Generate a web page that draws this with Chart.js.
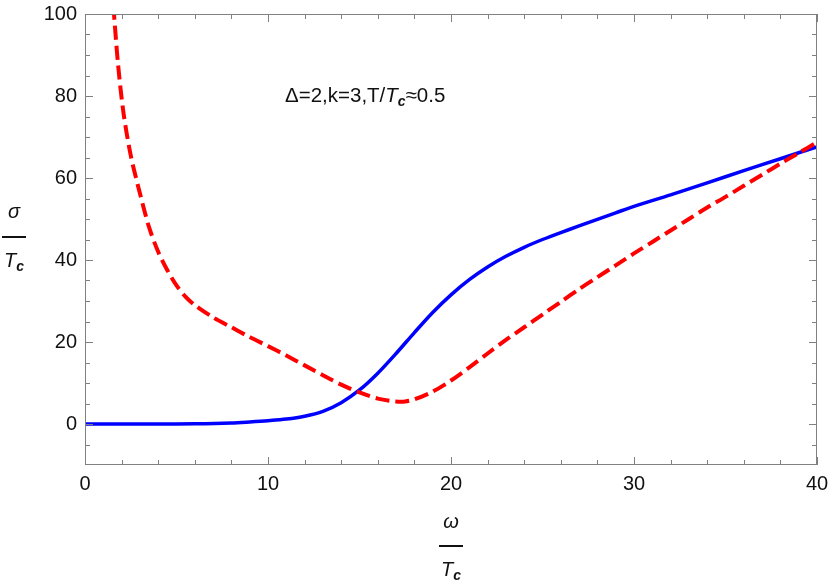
<!DOCTYPE html>
<html>
<head>
<meta charset="utf-8">
<script src="https://cdn.jsdelivr.net/npm/chart.js@4.4.1/dist/chart.umd.min.js"></script>
<style>
  html, body { margin: 0; background: #fff; }
  #wrap { width: 830px; height: 585px; }
</style>
</head>
<body>
<div id="wrap"><canvas id="chart"></canvas></div>
<script>
// === axis ticks ===
const xTicks = [0, 10, 20, 30, 40];
const yTicks = [0, 20, 40, 60, 80, 100];
const xMinor = [2, 4, 6, 8, 12, 14, 16, 18, 22, 24, 26, 28, 32, 34, 36, 38];
const yMinor = [-5, 5, 10, 15, 25, 30, 35, 45, 50, 55, 65, 70, 75, 85, 90, 95];

// === blue solid curve (omega/Tc, sigma/Tc) ===
const blueW = [0, 4, 6, 8, 9, 10, 11, 12, 13, 14, 15, 16, 17, 18, 19, 20, 21, 22, 23, 24, 25, 26, 27, 28, 29, 30, 32, 34, 36, 38, 40];
const blueS = [0, 0, 0.05, 0.25, 0.5, 0.8, 1.2, 1.9, 3.1, 5.2, 8.3, 12.4, 17.2, 22.3, 27.2, 31.5, 35.2, 38.3, 40.9, 43.1, 45, 46.7, 48.3, 49.9, 51.5, 53.1, 55.9, 58.8, 61.8, 64.7, 67.6];

// === red dashed curve ===
const redW = [1.55, 1.8, 2.1, 2.5, 3, 3.5, 4, 4.5, 5, 5.5, 6, 7, 8, 9, 10, 11, 12, 13, 14, 15, 16, 17, 17.5, 18, 19, 20, 21, 22, 23, 24, 25, 26, 27, 28, 29, 30, 31, 32, 33, 34, 35, 36, 37, 38, 39, 40];
const redS = [102, 88, 76, 65.5, 56.3, 48, 42, 37.5, 33.8, 31, 29, 26, 23.6, 21.2, 19, 16.7, 14.3, 11.9, 9.6, 7.7, 6.2, 5.5, 5.5, 6, 7.9, 10.6, 13.8, 17.2, 20.5, 23.6, 26.7, 29.8, 32.9, 35.8, 38.7, 41.6, 44.4, 47.2, 50, 52.8, 55.4, 58.1, 60.8, 63.5, 66.1, 68.7];

const toPoints = (xs, ys) => xs.map((x, i) => ({ x: x, y: ys[i] }));

const FONT = '"Liberation Sans", Arial, sans-serif';

// рамка, засечки внутрь, подписи осей
const framePlugin = {
  id: "frame",
  afterDraw(chart) {
    const { ctx, chartArea: a, scales } = chart;
    const xs = scales.x, ys = scales.y;
    ctx.save();
    ctx.strokeStyle = "#808080";
    ctx.lineWidth = 1;
    ctx.strokeRect(a.left + 0.5, a.top + 0.5, a.right - a.left - 1, a.bottom - a.top - 1);

    ctx.beginPath();
    const xTick = (v, len) => {
      const p = Math.round(xs.getPixelForValue(v)) + 0.5;
      ctx.moveTo(p, a.bottom); ctx.lineTo(p, a.bottom - len);
      ctx.moveTo(p, a.top); ctx.lineTo(p, a.top + len);
    };
    const yTick = (v, len) => {
      const p = Math.round(ys.getPixelForValue(v)) + 0.5;
      ctx.moveTo(a.left, p); ctx.lineTo(a.left + len, p);
      ctx.moveTo(a.right, p); ctx.lineTo(a.right - len, p);
    };
    xTicks.forEach(v => xTick(v, 8));
    xMinor.forEach(v => xTick(v, 5));
    yTicks.forEach(v => yTick(v, 8));
    yMinor.forEach(v => yTick(v, 5));
    ctx.stroke();

    ctx.fillStyle = "#111";
    ctx.textBaseline = "alphabetic";

    // аннотация
    let x = 285;
    const base = 102;
    const seg = (txt, font, dy) => {
      ctx.font = font;
      ctx.fillText(txt, x, base + (dy || 0));
      x += ctx.measureText(txt).width;
    };
    ctx.textAlign = "left";
    seg("Δ=2,k=3,T/", "20.5px " + FONT);
    seg("T", "italic 20.5px " + FONT);
    seg("c", "italic bold 14px " + FONT, 4);
    seg("≈0.5", "20.5px " + FONT);

    // дробь: символ / черта / T_c
    const fraction = (cx, topTxt, topBase, lineY, botBase) => {
      ctx.font = "italic 20px " + FONT;
      ctx.textAlign = "center";
      ctx.fillText(topTxt, cx, topBase);
      ctx.fillRect(cx - 12, lineY - 1, 24, 2);
      ctx.textAlign = "left";
      ctx.font = "italic 20px " + FONT;
      const wT = ctx.measureText("T").width;
      ctx.font = "italic bold 14px " + FONT;
      const wc = ctx.measureText("c").width;
      const sx = cx - (wT + wc) / 2;
      ctx.font = "italic 20px " + FONT;
      ctx.fillText("T", sx, botBase);
      ctx.font = "italic bold 14px " + FONT;
      ctx.fillText("c", sx + wT, botBase + 4);
    };
    fraction(14, "σ", 218, 237, 267);
    fraction((a.left + a.right) / 2, "ω", 528, 546, 576);
    ctx.restore();
  }
};

new Chart(document.getElementById("chart"), {
  type: "line",
  data: {
    datasets: [
      {
        data: toPoints(redW, redS),
        borderColor: "#ff0000",
        borderWidth: 4,
        borderDash: [14, 6],
        pointRadius: 0,
        tension: 0.3,
        fill: false,
        clip: 0
      },
      {
        data: toPoints(blueW, blueS),
        borderColor: "#0000ff",
        borderWidth: 3.5,
        pointRadius: 0,
        tension: 0.3,
        fill: false,
        clip: 0
      }
    ]
  },
  plugins: [framePlugin],
  options: {
    responsive: true,
    maintainAspectRatio: false,
    animation: false,
    devicePixelRatio: 1,
    layout: { padding: { top: 14, right: 13, left: 0, bottom: 0 } },
    plugins: { legend: { display: false }, tooltip: { enabled: false } },
    scales: {
      x: {
        type: "linear",
        min: 0,
        max: 40,
        afterBuildTicks: s => { s.ticks = xTicks.map(v => ({ value: v })); },
        afterFit: s => { s.height = 120; s.paddingLeft = 0; s.paddingRight = 0; },
        grid: { display: false, drawTicks: false },
        border: { display: false },
        ticks: { font: { size: 20, family: FONT }, color: "#111", padding: 7, maxRotation: 0 }
      },
      y: {
        type: "linear",
        min: -10,
        max: 100,
        afterBuildTicks: s => { s.ticks = yTicks.map(v => ({ value: v })); },
        afterFit: s => { s.width = 85; s.paddingTop = 0; s.paddingBottom = 0; },
        grid: { display: false, drawTicks: false },
        border: { display: false },
        ticks: { font: { size: 20, family: FONT }, color: "#111", padding: 8 }
      }
    }
  }
});
</script>
</body>
</html>
